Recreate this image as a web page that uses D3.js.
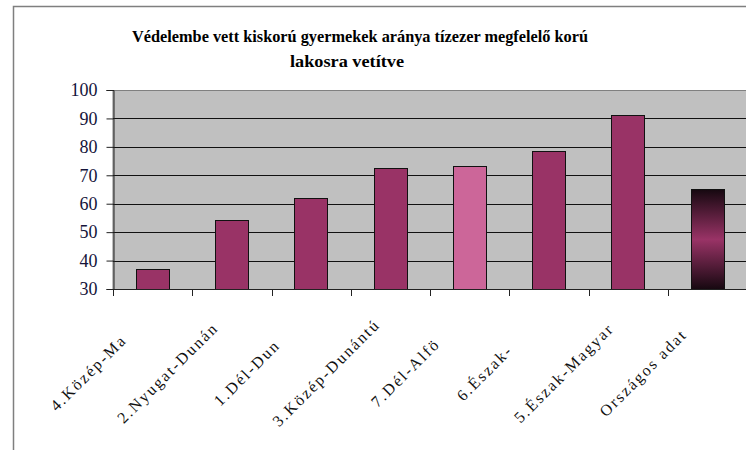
<!DOCTYPE html>
<html><head><meta charset="utf-8">
<script src="https://cdn.jsdelivr.net/npm/d3@7"></script>
<style>
html,body{margin:0;padding:0;background:#fff;}
svg{display:block;}
svg text{font-family:"Liberation Serif","Times New Roman","DejaVu Serif",serif;}
</style></head>
<body>
<script>
// ---- data ----
const categories = ["4.Közép-Magyarország","2.Nyugat-Dunántúl","1.Dél-Dunántúl","3.Közép-Dunántúl","7.Dél-Alföld","6.Észak-Alföld","5.Észak-Magyarország","Országos adat"];
const values = [37.0, 54.2, 62.1, 72.7, 73.4, 78.6, 91.1, 65.1];
const tickLabels = ["4.Közép-Ma","2.Nyugat-Dunán","1.Dél-Dun","3.Közép-Dunántú","7.Dél-Alfö","6.Észak-","5.Észak-Magyar","Országos adat"];
const yTicks = [30,40,50,60,70,80,90,100];
const titleLines = ["Védelembe vett kiskorú gyermekek aránya tízezer megfelelő korú","lakosra vetítve"];

// ---- layout ----
const W = 746, H = 450;
const plot = {left:113, top:90, right:747, bottom:289};
const SERIF = '"Liberation Serif","Times New Roman","DejaVu Serif",serif';

const svg = d3.select("body").append("svg").attr("width",W).attr("height",H);
const defs = svg.append("defs");
const grad = defs.append("linearGradient").attr("id","natGrad").attr("x1",0).attr("y1",0).attr("x2",0).attr("y2",1);
grad.append("stop").attr("offset","0%").attr("stop-color","#160810");
grad.append("stop").attr("offset","50%").attr("stop-color","#993366");
grad.append("stop").attr("offset","100%").attr("stop-color","#160810");

// outer frame
svg.append("path").attr("d",`M13.5,${H} L13.5,6.5 L${W},6.5`)
  .attr("fill","none").attr("stroke","#7f7f7f").attr("stroke-width",1.5);

// title
const title = svg.append("text").style("font-family",SERIF)
  .attr("font-weight","bold").attr("font-size",17).attr("fill","#000").attr("text-anchor","middle");
title.append("tspan").attr("x",360).attr("y",42).attr("textLength",456).attr("lengthAdjust","spacingAndGlyphs").text(titleLines[0]);
title.append("tspan").attr("x",347).attr("y",67).attr("textLength",114).attr("lengthAdjust","spacingAndGlyphs").text(titleLines[1]);

const x = d3.scaleBand().domain(categories).range([plot.left, plot.right]).padding(0);
const y = d3.scaleLinear().domain([30,100]).range([plot.bottom, plot.top]);

// plot area
svg.append("rect").attr("x",plot.left).attr("y",plot.top+0.5)
  .attr("width",plot.right-plot.left+5).attr("height",plot.bottom-plot.top)
  .attr("fill","#c0c0c0").attr("stroke","#808080").attr("stroke-width",1);

// gridlines
svg.append("g").selectAll("line").data(yTicks.filter(t=>t>30 && t<100)).join("line")
  .attr("x1",plot.left).attr("x2",W)
  .attr("y1",d=>Math.round(y(d))+0.5).attr("y2",d=>Math.round(y(d))+0.5)
  .attr("stroke","#111").attr("stroke-width",1);

// bars
const bw = x.bandwidth()*0.42;
svg.append("g").selectAll("rect").data(categories).join("rect")
  .attr("x",(d)=>Math.round(x(d)+x.bandwidth()/2-bw/2)+0.5)
  .attr("y",(d,i)=>Math.round(y(values[i]))+0.5)
  .attr("width",Math.round(bw))
  .attr("height",(d,i)=>Math.round(y(30))-Math.round(y(values[i])))
  .attr("fill",(d)=> d==="Országos adat" ? "url(#natGrad)" : (d==="7.Dél-Alföld" ? "#cc6699" : "#993366"))
  .attr("stroke","#111").attr("stroke-width",1);

// y axis
const yAxis = d3.axisLeft(y).tickValues(yTicks).tickSize(7).tickPadding(9).tickFormat(d3.format("d"));
const gy = svg.append("g").attr("transform",`translate(${plot.left+0.5},0)`).call(yAxis);
gy.attr("font-family",null);
gy.select(".domain").attr("stroke","#222");
gy.selectAll(".tick line").attr("stroke","#222");
gy.selectAll(".tick text").style("font-family",SERIF)
  .attr("font-size",18).attr("fill","#14143a");

// x axis line with ticks at category boundaries
const gx = svg.append("g");
gx.append("line").attr("x1",plot.left).attr("x2",W).attr("y1",plot.bottom+0.5).attr("y2",plot.bottom+0.5).attr("stroke","#222");
gx.selectAll("line.tk").data(categories).join("line").attr("class","tk")
  .attr("x1",d=>Math.round(x(d))+0.5).attr("x2",d=>Math.round(x(d))+0.5)
  .attr("y1",plot.bottom).attr("y2",plot.bottom+7).attr("stroke","#222");

// x labels, rotated -45
gx.selectAll("text").data(categories).join("text")
  .attr("transform",d=>`translate(${x(d)+x.bandwidth()/2-63},374) rotate(-45)`)
  .attr("text-anchor","middle").attr("dominant-baseline","middle")
  .style("font-family",SERIF)
  .attr("font-size",16).attr("letter-spacing",2).attr("fill","#111")
  .text((d,i)=>tickLabels[i]);
</script>
</body></html>
